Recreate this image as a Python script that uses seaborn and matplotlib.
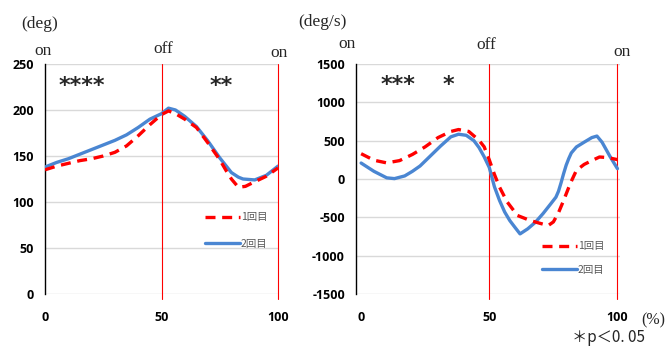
import matplotlib
matplotlib.use("Agg")
import matplotlib.pyplot as plt
import seaborn as sns
import pandas as pd
from matplotlib.lines import Line2D

# ---------------- data ----------------
ang_x1 = [0, 5, 10, 15, 20, 25, 30, 35, 40, 45, 50, 53, 56, 60, 65, 70, 75, 78, 80, 83, 86, 90, 95, 100]
ang_y1 = [135, 139, 142, 145, 147, 150, 154, 161, 172, 184, 195, 199, 196, 190, 181, 164, 146, 133, 125, 116, 117, 122, 128, 137]
ang_x2 = [0, 5, 10, 15, 20, 25, 30, 35, 40, 45, 50, 53, 56, 60, 65, 70, 75, 80, 83, 85, 90, 95, 100]
ang_y2 = [138, 143, 147, 152, 157, 162, 167, 173, 181, 190, 196, 202, 200, 193, 182, 166, 148, 132, 127, 125, 124, 129, 139]

vel_x1 = [0, 5, 10, 15, 20, 25, 30, 35, 38, 42, 46, 48, 50, 52, 54, 57, 61, 66, 70, 73, 75, 77, 79, 81, 82, 84, 87, 90, 93, 96, 100]
vel_y1 = [330, 245, 210, 240, 320, 420, 540, 620, 645, 620, 505, 420, 250, 60, -106, -300, -476, -542, -580, -607, -560, -440, -280, -110, -30, 113, 190, 240, 287, 280, 253]
vel_x2 = [0, 5, 10, 13, 17, 20, 23, 27, 31, 35, 38, 41, 44, 46, 48, 50, 52, 54, 56, 58, 60, 62, 65, 68, 71, 74, 76, 77, 78, 79, 80, 81, 82, 84, 87, 90, 92, 94, 97, 100]
vel_y2 = [208, 100, 15, 5, 40, 100, 170, 300, 430, 550, 584, 570, 500, 410, 290, 150, -100, -280, -430, -542, -630, -716, -650, -564, -450, -323, -237, -160, -50, 70, 180, 266, 340, 418, 480, 540, 560, 480, 300, 135]

series_names = ["1回目", "2回目"]
ang_ticks = [0, 50, 100, 150, 200, 250]
vel_ticks = [-1500, -1000, -500, 0, 500, 1000, 1500]
x_ticks = [0, 50, 100]

RED = "#FF0000"
BLUE = "#4A86D2"
GRID = "#D9D9D9"

sns.set_style("white")
plt.rcParams["font.family"] = ["Open Sans", "DejaVu Sans"]

W, H = 667, 347
fig = plt.figure(figsize=(W / 100, H / 100), dpi=100)


def px_axes(x0, y0, x1, y1):
    return fig.add_axes([x0 / W, 1 - y1 / H, (x1 - x0) / W, (y1 - y0) / H])


ax1 = px_axes(45, 64, 278, 294)
ax2 = px_axes(356, 64, 620, 294)

df_a = pd.concat([
    pd.DataFrame({"x": ang_x1, "y": ang_y1, "s": series_names[0]}),
    pd.DataFrame({"x": ang_x2, "y": ang_y2, "s": series_names[1]}),
])
df_v = pd.concat([
    pd.DataFrame({"x": vel_x1, "y": vel_y1, "s": series_names[0]}),
    pd.DataFrame({"x": vel_x2, "y": vel_y2, "s": series_names[1]}),
])

for ax, df, ticks, xl in [(ax1, df_a, ang_ticks, (0, 100)), (ax2, df_v, vel_ticks, (-2, 101))]:
    sns.lineplot(data=df[df.s == series_names[1]], x="x", y="y", ax=ax, color=BLUE,
                 lw=2.4, legend=False, zorder=3)
    sns.lineplot(data=df[df.s == series_names[0]], x="x", y="y", ax=ax, color=RED,
                 lw=2.4, legend=False, zorder=4, linestyle=(0, (3, 2)))
    ax.set_xlim(*xl)
    ax.set_ylim(ticks[0], ticks[-1])
    ax.set_yticks(ticks)
    ax.set_xticks(x_ticks)
    ax.set_xticklabels([str(t) for t in x_ticks])
    ax.set_yticklabels([str(t) for t in ticks])
    for lab in ax.get_xticklabels() + ax.get_yticklabels():
        lab.set_fontweight("bold")
        lab.set_fontsize(9)
        lab.set_color("black")
    ax.tick_params(axis="y", length=0, pad=8)
    ax.tick_params(axis="x", length=0, pad=12)
    ax.set_xlabel("")
    ax.set_ylabel("")
    ax.grid(axis="y", color=GRID, lw=1)
    ax.grid(axis="x", visible=False)
    for s in ["top", "right", "bottom"]:
        ax.spines[s].set_visible(False)
    ax.spines["left"].set_color("black")
    ax.spines["left"].set_linewidth(1.0)
    for xv in (50, 100):
        ax.axvline(xv, ymin=-0.02, ymax=1.0, color=RED, lw=0.8, clip_on=False, zorder=2)

# legends
handles = [Line2D([], [], color=RED, lw=2.4, linestyle=(0, (3, 2))),
           Line2D([], [], color=BLUE, lw=2.4)]
for ax, lx, ly, sp in [(ax1, 196, 203, 1.6), (ax2, 533, 232, 1.3)]:
    leg = ax.legend(handles, series_names, loc="upper left",
                    bbox_to_anchor=(lx / W, 1 - ly / H), bbox_transform=fig.transFigure,
                    frameon=False, handlelength=3.3, handletextpad=0.1, labelspacing=sp,
                    prop={"family": ["Noto Sans CJK JP"], "size": 7.5})
    for t in leg.get_texts():
        t.set_color("#595959")

SERIF = ["Liberation Serif", "DejaVu Serif"]


def ftext(x, y, s, size=11, family=SERIF, weight="normal", ha="center"):
    fig.text(x / W, 1 - y / H, s, ha=ha, va="center", fontsize=size, family=family,
             weight=weight)


ftext(40, 24, "(deg)", 12.5)
ftext(43, 51, "on", 12.5)
ftext(163, 49, "off", 12.5)
ftext(279, 53, "on", 12.5)
ftext(322, 22, "(deg/s)", 12.5)
ftext(347, 44, "on", 12.5)
ftext(486, 45, "off", 12.5)
ftext(622, 52, "on", 12.5)

ftext(82, 86, "****", 16, family=["DejaVu Sans"], weight="bold")
ftext(221, 86, "**", 16, family=["DejaVu Sans"], weight="bold")
ftext(398, 85, "***", 16, family=["DejaVu Sans"], weight="bold")
ftext(448, 85, "*", 16, family=["DejaVu Sans"], weight="bold")

ftext(665, 320, "(%)", 11.5, ha="right")
ftext(608, 338, "＊p＜0. 05", 11, family=["Noto Sans CJK JP", "DejaVu Sans"])

fig.savefig("out.png", dpi=100)
